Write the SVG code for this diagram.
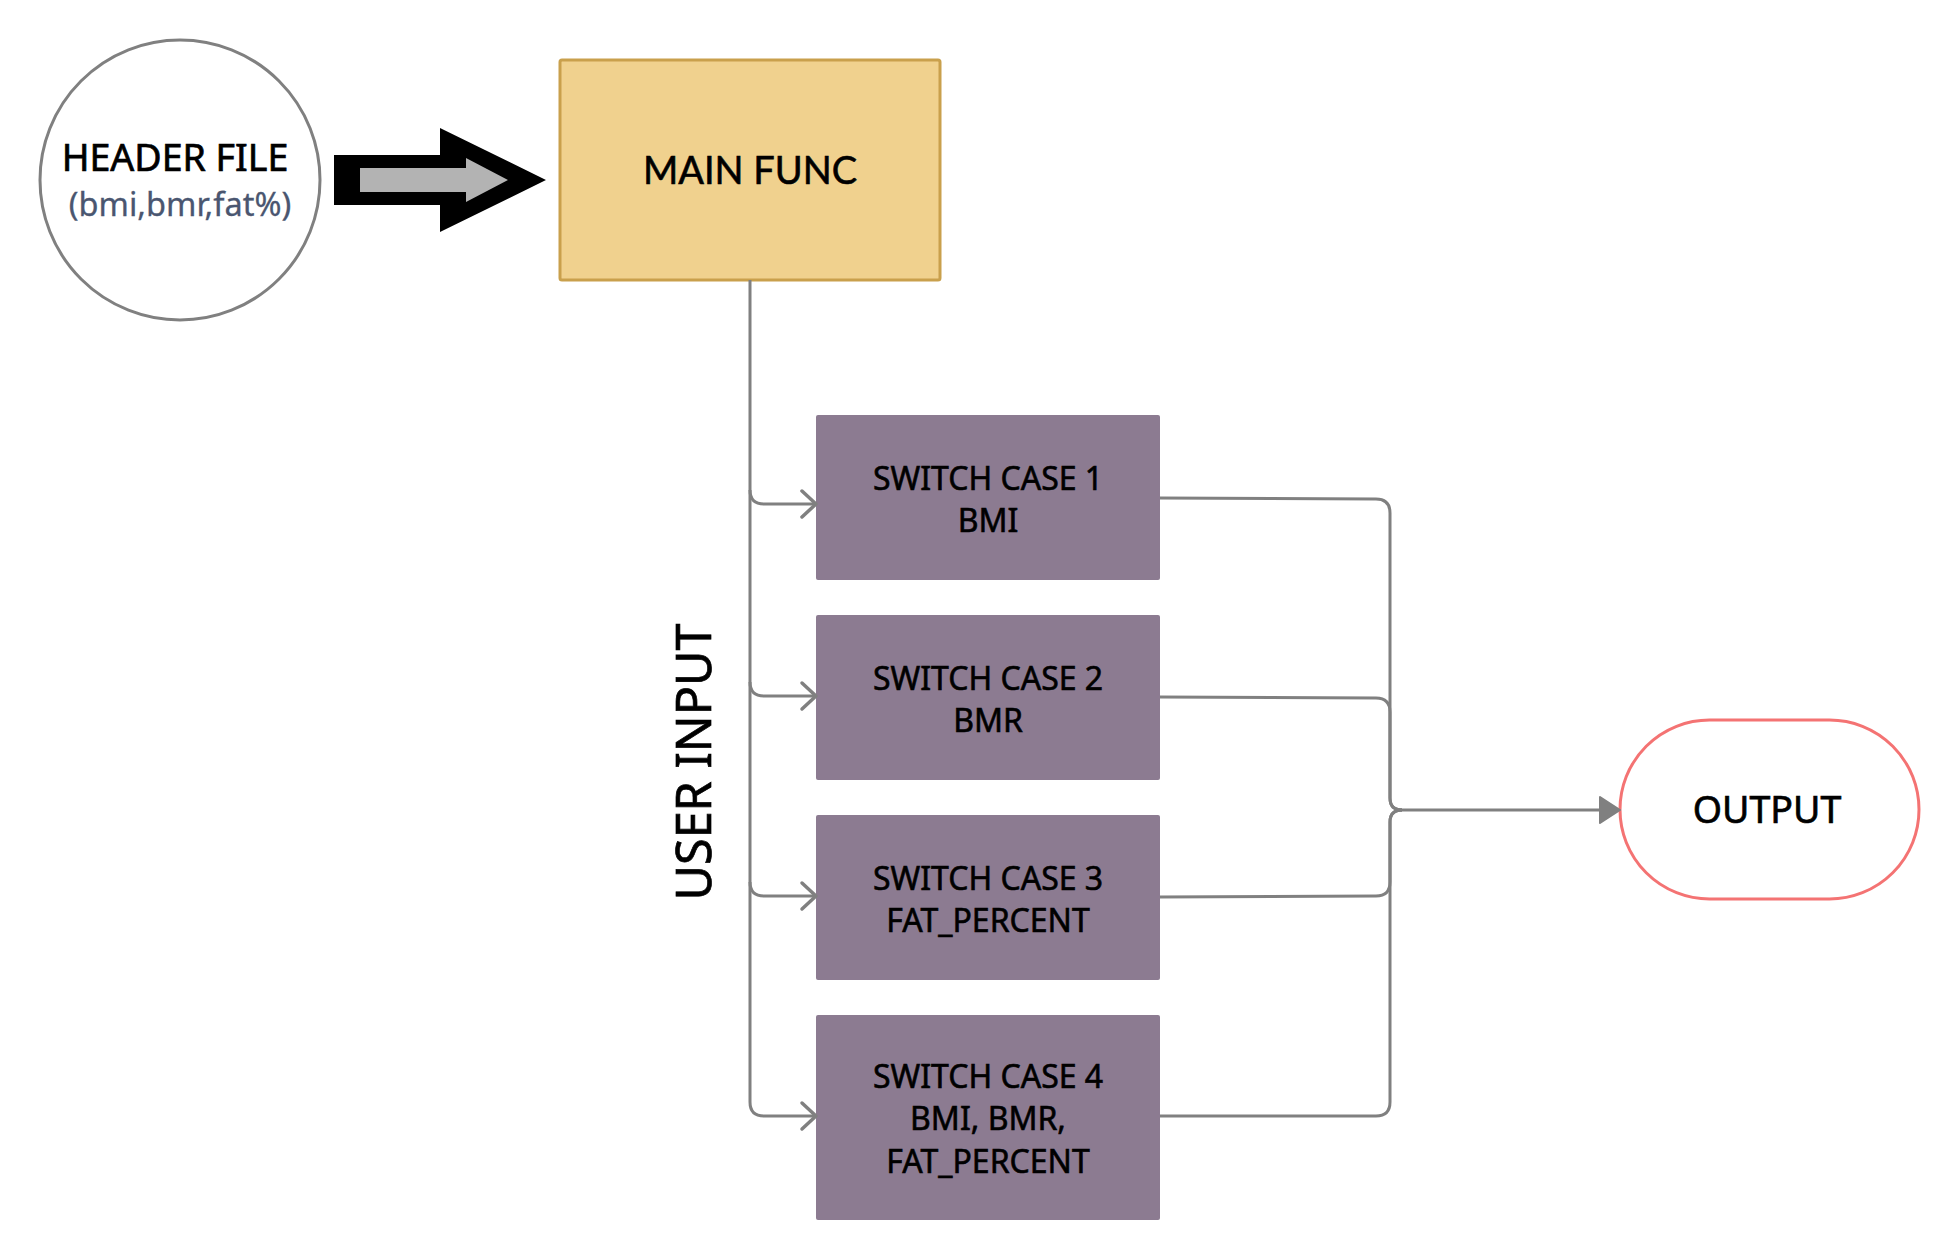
<svg xmlns="http://www.w3.org/2000/svg" width="1960" height="1260" viewBox="0 0 1960 1260">
<defs>
<style>
.conn{fill:none;stroke:#808080;stroke-width:3;stroke-linejoin:round}
.chev{fill:none;stroke:#808080;stroke-width:3.5;stroke-linecap:round;stroke-linejoin:round}
.case{fill:#8c7b91}
.t{font-family:"Noto Sans","Open Sans",sans-serif;fill:#000;stroke:#000;stroke-width:0.7}
.ct{font-family:"Noto Sans","Open Sans",sans-serif;font-size:32px;fill:#000;stroke:#000;stroke-width:0.6;text-anchor:middle}
</style>
</defs>
<rect width="1960" height="1260" fill="#ffffff"/>

<g id="header-file">
<circle cx="180" cy="180" r="140" fill="#ffffff" stroke="#808080" stroke-width="3"/>
<text class="t" x="175" y="171" font-size="37.5" text-anchor="middle">HEADER FILE</text>
<text x="180" y="216" font-family="'Noto Sans','Open Sans',sans-serif" font-size="32.5" fill="#4a5670" stroke="#4a5670" stroke-width="0.3" text-anchor="middle">(bmi,bmr,fat%)</text>
</g>

<g id="block-arrow">
<polygon points="334,155 440,155 440,128 546,180 440,232 440,205 334,205" fill="#000000"/>
<polygon points="360,168 466,168 466,158 508,180 466,202 466,192 360,192" fill="#b3b3b3"/>
</g>

<g id="main-func">
<rect x="560" y="60" width="380" height="220" rx="2" fill="#f0d18e" stroke="#c9a04c" stroke-width="3"/>
<text x="750" y="184" font-family="Lato,'Noto Sans',sans-serif" font-size="38" fill="#000" stroke="#000" stroke-width="0.6" text-anchor="middle">MAIN FUNC</text>
</g>

<g id="case-1">
<rect class="case" x="816" y="415" width="344" height="165" rx="2"/>
<text class="ct" x="988" y="490">SWITCH CASE 1</text>
<text class="ct" x="988" y="532">BMI</text>
</g>
<g id="case-2">
<rect class="case" x="816" y="615" width="344" height="165" rx="2"/>
<text class="ct" x="988" y="690">SWITCH CASE 2</text>
<text class="ct" x="988" y="732">BMR</text>
</g>
<g id="case-3">
<rect class="case" x="816" y="815" width="344" height="165" rx="2"/>
<text class="ct" x="988" y="890">SWITCH CASE 3</text>
<text class="ct" x="988" y="932">FAT_PERCENT</text>
</g>
<g id="case-4">
<rect class="case" x="816" y="1015" width="344" height="205" rx="2"/>
<text class="ct" x="988" y="1088">SWITCH CASE 4</text>
<text class="ct" x="988" y="1130">BMI, BMR,</text>
<text class="ct" x="988" y="1173">FAT_PERCENT</text>
</g>

<g id="output">
<rect x="1620" y="720" width="299" height="179" rx="89.5" fill="#ffffff" stroke="#f47373" stroke-width="3"/>
<text class="t" x="1767" y="823" font-size="37.5" text-anchor="middle">OUTPUT</text>
</g>

<g id="user-input-label">
<text class="t" x="0" y="0" font-size="48.5" text-anchor="middle" stroke-width="0.9" transform="translate(711 762) rotate(-90)">USER INPUT</text>
</g>

<g id="connectors">
<path class="conn" d="M750 280 V1102 Q750 1116 764 1116 H814"/>
<path class="conn" d="M750 490 Q750 504 764 504 H814"/>
<path class="conn" d="M750 682 Q750 696 764 696 H814"/>
<path class="conn" d="M750 882 Q750 896 764 896 H814"/>
<path class="chev" d="M802 491 L816 504 L802 517"/>
<path class="chev" d="M802 683 L816 696 L802 709"/>
<path class="chev" d="M802 883 L816 896 L802 909"/>
<path class="chev" d="M802 1103 L816 1116 L802 1129"/>

<path class="conn" d="M1160 498 L1376 499 Q1390 499 1390 513 V798 Q1390 810 1402 810 H1602"/>
<path class="conn" d="M1160 697 L1376 698 Q1390 698 1390 712 V798 Q1390 810 1402 810"/>
<path class="conn" d="M1160 897 L1376 896 Q1390 896 1390 882 V822 Q1390 810 1402 810"/>
<path class="conn" d="M1160 1116 H1376 Q1390 1116 1390 1102 V822 Q1390 810 1402 810"/>
<polygon points="1600,797 1620,810 1600,823" fill="#808080" stroke="#808080" stroke-width="2" stroke-linejoin="round"/>
</g>
</svg>
